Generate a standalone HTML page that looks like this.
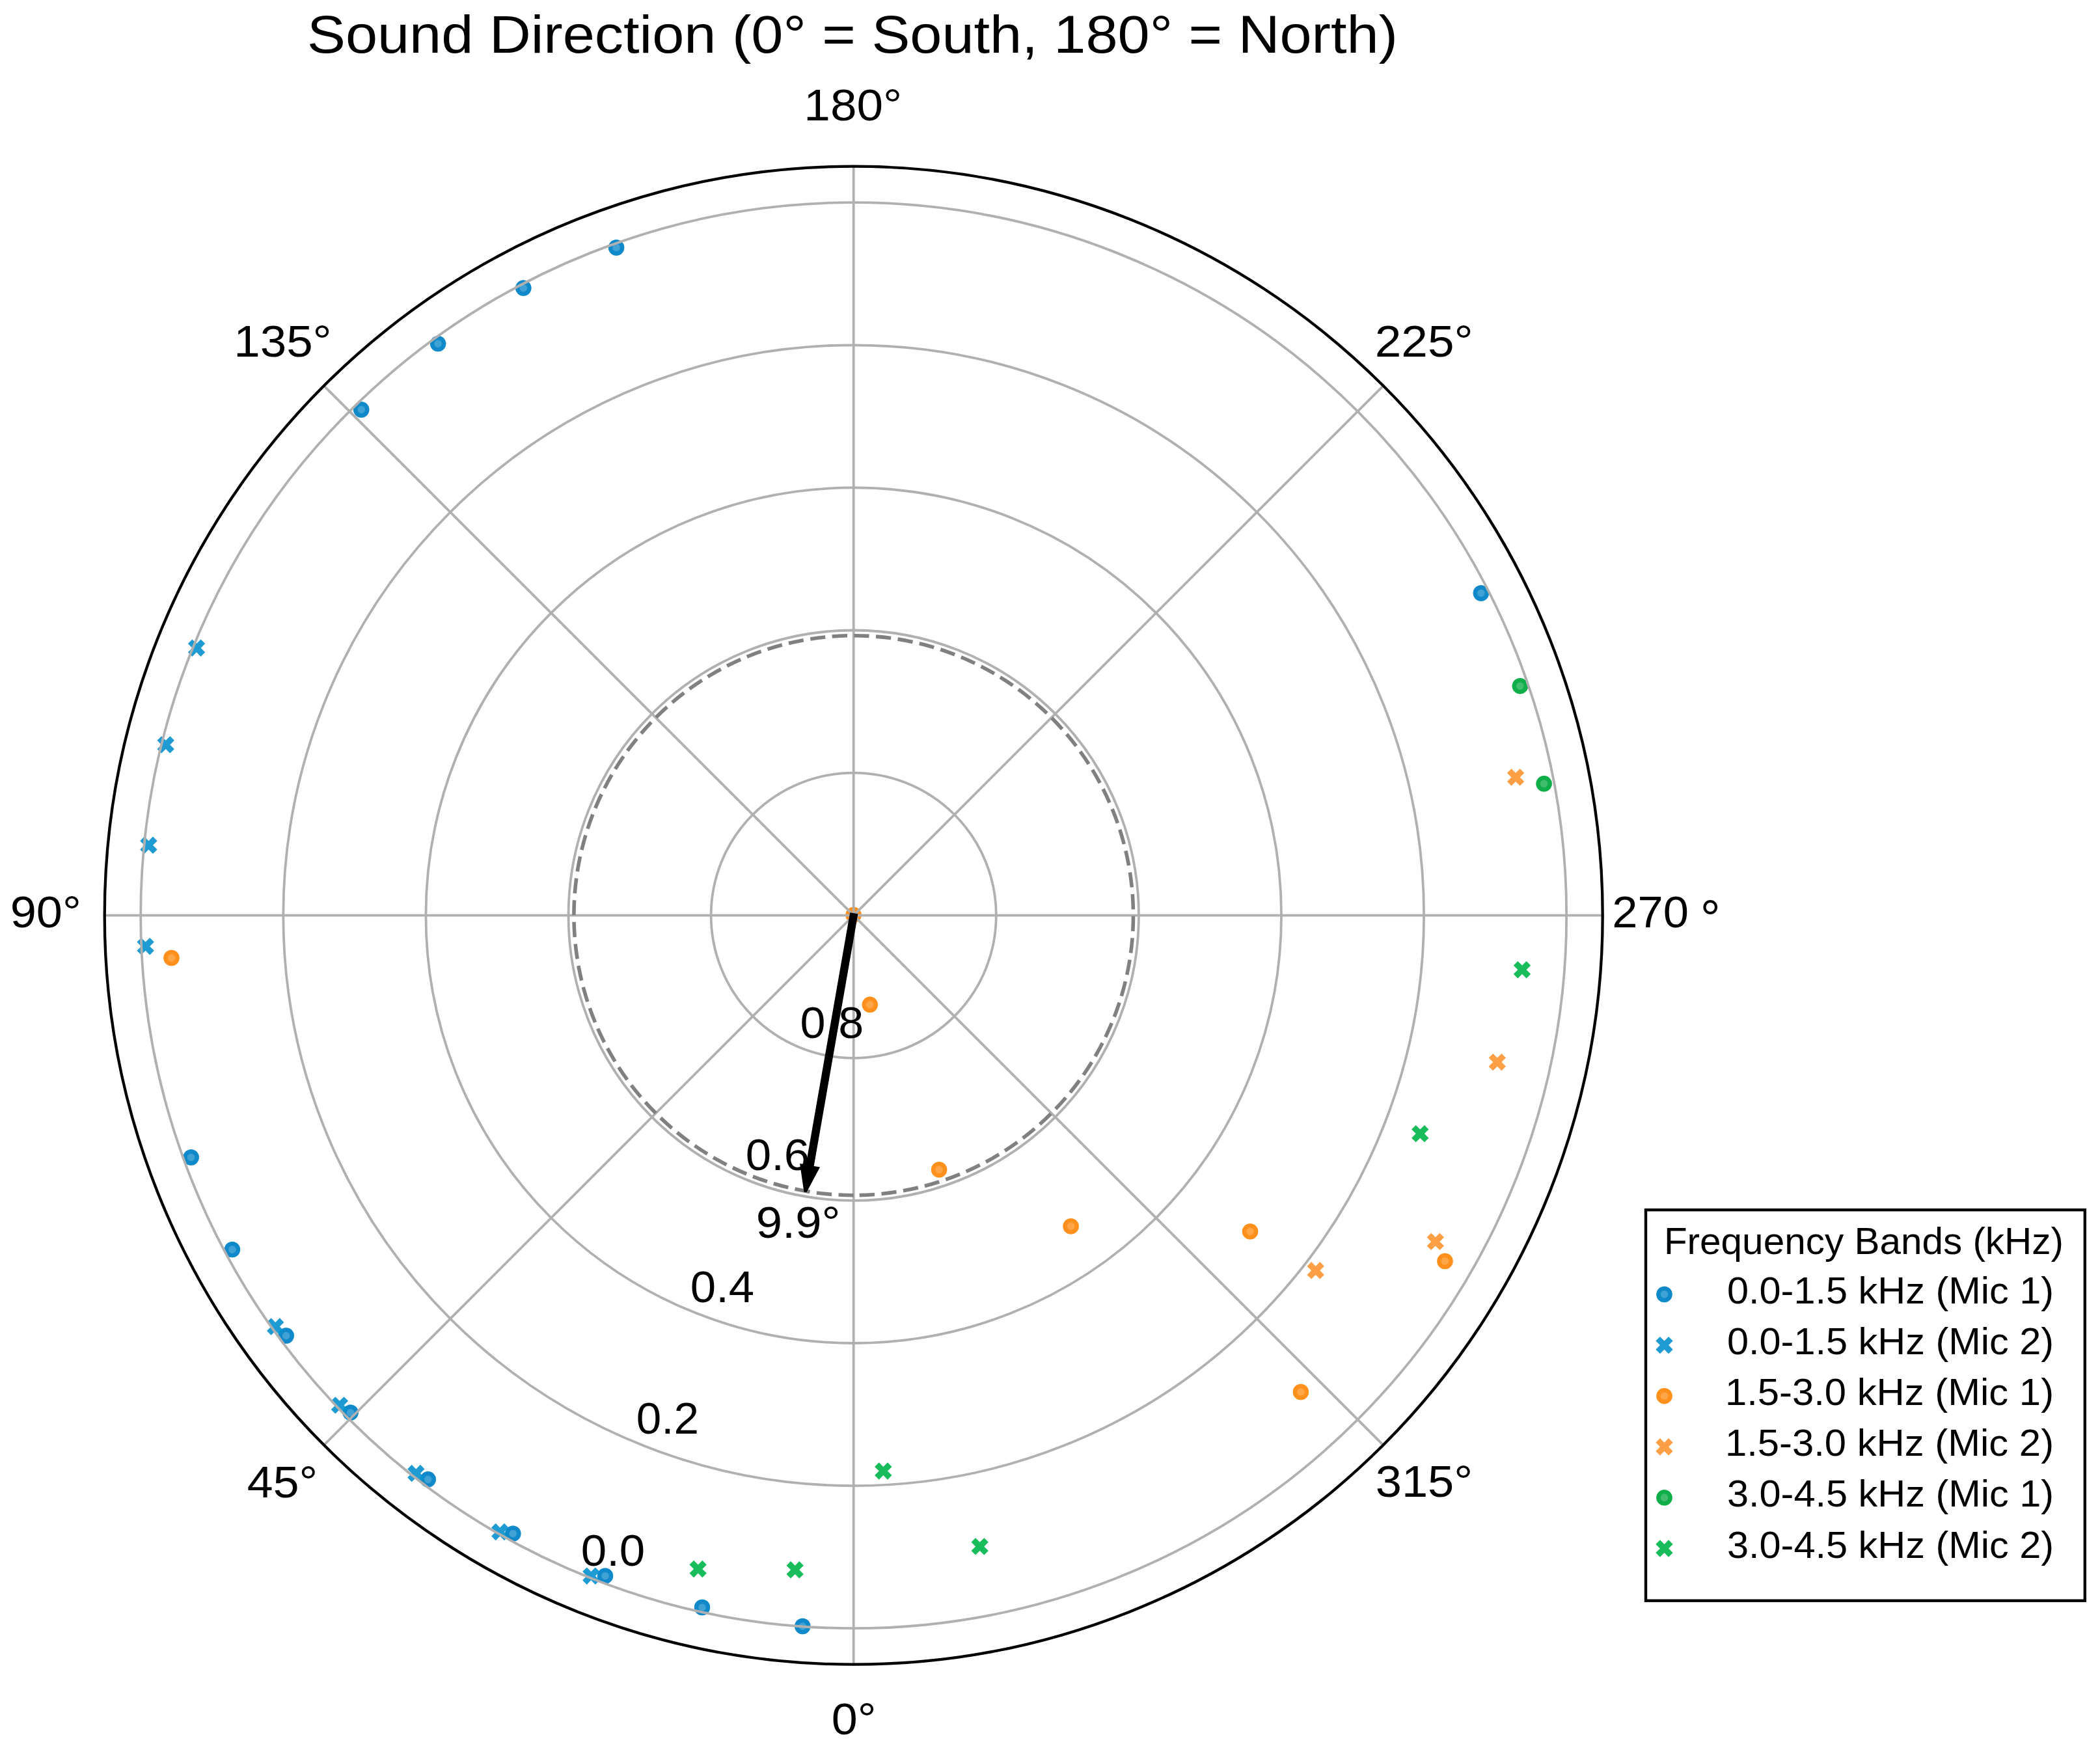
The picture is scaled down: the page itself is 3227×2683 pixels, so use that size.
<!DOCTYPE html><html><head><meta charset="utf-8"><style>html,body{margin:0;padding:0;background:#fff;}svg{display:block;}text{font-family:"Liberation Sans",sans-serif;fill:#000;}</style></head><body>
<svg width="3227" height="2683" viewBox="0 0 3227 2683">
<rect x="0" y="0" width="3227" height="2683" fill="#fff"/>
<circle cx="947.1" cy="380.5" r="12.2" fill="#0081c7" fill-opacity="0.75"/><circle cx="947.1" cy="380.5" r="9.0" fill="none" stroke="#0081c7" stroke-opacity="0.75" stroke-width="6.4"/>
<circle cx="804.3" cy="442.6" r="12.2" fill="#0081c7" fill-opacity="0.75"/><circle cx="804.3" cy="442.6" r="9.0" fill="none" stroke="#0081c7" stroke-opacity="0.75" stroke-width="6.4"/>
<circle cx="673.1" cy="528.1" r="12.2" fill="#0081c7" fill-opacity="0.75"/><circle cx="673.1" cy="528.1" r="9.0" fill="none" stroke="#0081c7" stroke-opacity="0.75" stroke-width="6.4"/>
<circle cx="555.2" cy="629.5" r="12.2" fill="#0081c7" fill-opacity="0.75"/><circle cx="555.2" cy="629.5" r="9.0" fill="none" stroke="#0081c7" stroke-opacity="0.75" stroke-width="6.4"/>
<circle cx="2275.9" cy="911.5" r="12.2" fill="#0081c7" fill-opacity="0.75"/><circle cx="2275.9" cy="911.5" r="9.0" fill="none" stroke="#0081c7" stroke-opacity="0.75" stroke-width="6.4"/>
<circle cx="293.6" cy="1778.5" r="12.2" fill="#0081c7" fill-opacity="0.75"/><circle cx="293.6" cy="1778.5" r="9.0" fill="none" stroke="#0081c7" stroke-opacity="0.75" stroke-width="6.4"/>
<circle cx="356.9" cy="1920.1" r="12.2" fill="#0081c7" fill-opacity="0.75"/><circle cx="356.9" cy="1920.1" r="9.0" fill="none" stroke="#0081c7" stroke-opacity="0.75" stroke-width="6.4"/>
<circle cx="439.7" cy="2052.5" r="12.2" fill="#0081c7" fill-opacity="0.75"/><circle cx="439.7" cy="2052.5" r="9.0" fill="none" stroke="#0081c7" stroke-opacity="0.75" stroke-width="6.4"/>
<circle cx="538.6" cy="2170.7" r="12.2" fill="#0081c7" fill-opacity="0.75"/><circle cx="538.6" cy="2170.7" r="9.0" fill="none" stroke="#0081c7" stroke-opacity="0.75" stroke-width="6.4"/>
<circle cx="657.7" cy="2273.3" r="12.2" fill="#0081c7" fill-opacity="0.75"/><circle cx="657.7" cy="2273.3" r="9.0" fill="none" stroke="#0081c7" stroke-opacity="0.75" stroke-width="6.4"/>
<circle cx="788.3" cy="2356.7" r="12.2" fill="#0081c7" fill-opacity="0.75"/><circle cx="788.3" cy="2356.7" r="9.0" fill="none" stroke="#0081c7" stroke-opacity="0.75" stroke-width="6.4"/>
<circle cx="930.0" cy="2421.7" r="12.2" fill="#0081c7" fill-opacity="0.75"/><circle cx="930.0" cy="2421.7" r="9.0" fill="none" stroke="#0081c7" stroke-opacity="0.75" stroke-width="6.4"/>
<circle cx="1079.0" cy="2470.0" r="12.2" fill="#0081c7" fill-opacity="0.75"/><circle cx="1079.0" cy="2470.0" r="9.0" fill="none" stroke="#0081c7" stroke-opacity="0.75" stroke-width="6.4"/>
<circle cx="1233.3" cy="2499.0" r="12.2" fill="#0081c7" fill-opacity="0.75"/><circle cx="1233.3" cy="2499.0" r="9.0" fill="none" stroke="#0081c7" stroke-opacity="0.75" stroke-width="6.4"/>
<polygon points="295.40,982.50 302.00,989.10 308.60,982.50 315.20,989.10 308.60,995.70 315.20,1002.30 308.60,1008.90 302.00,1002.30 295.40,1008.90 288.80,1002.30 295.40,995.70 288.80,989.10" fill="#0590cd" fill-opacity="0.9"/>
<polygon points="248.10,1131.20 254.70,1137.80 261.30,1131.20 267.90,1137.80 261.30,1144.40 267.90,1151.00 261.30,1157.60 254.70,1151.00 248.10,1157.60 241.50,1151.00 248.10,1144.40 241.50,1137.80" fill="#0590cd" fill-opacity="0.9"/>
<polygon points="221.80,1285.60 228.40,1292.20 235.00,1285.60 241.60,1292.20 235.00,1298.80 241.60,1305.40 235.00,1312.00 228.40,1305.40 221.80,1312.00 215.20,1305.40 221.80,1298.80 215.20,1292.20" fill="#0590cd" fill-opacity="0.9"/>
<polygon points="217.00,1441.00 223.60,1447.60 230.20,1441.00 236.80,1447.60 230.20,1454.20 236.80,1460.80 230.20,1467.40 223.60,1460.80 217.00,1467.40 210.40,1460.80 217.00,1454.20 210.40,1447.60" fill="#0590cd" fill-opacity="0.9"/>
<polygon points="416.60,2025.30 423.20,2031.90 429.80,2025.30 436.40,2031.90 429.80,2038.50 436.40,2045.10 429.80,2051.70 423.20,2045.10 416.60,2051.70 410.00,2045.10 416.60,2038.50 410.00,2031.90" fill="#0590cd" fill-opacity="0.9"/>
<polygon points="515.30,2146.20 521.90,2152.80 528.50,2146.20 535.10,2152.80 528.50,2159.40 535.10,2166.00 528.50,2172.60 521.90,2166.00 515.30,2172.60 508.70,2166.00 515.30,2159.40 508.70,2152.80" fill="#0590cd" fill-opacity="0.9"/>
<polygon points="632.70,2250.80 639.30,2257.40 645.90,2250.80 652.50,2257.40 645.90,2264.00 652.50,2270.60 645.90,2277.20 639.30,2270.60 632.70,2277.20 626.10,2270.60 632.70,2264.00 626.10,2257.40" fill="#0590cd" fill-opacity="0.9"/>
<polygon points="761.70,2340.80 768.30,2347.40 774.90,2340.80 781.50,2347.40 774.90,2354.00 781.50,2360.60 774.90,2367.20 768.30,2360.60 761.70,2367.20 755.10,2360.60 761.70,2354.00 755.10,2347.40" fill="#0590cd" fill-opacity="0.9"/>
<polygon points="901.70,2408.50 908.30,2415.10 914.90,2408.50 921.50,2415.10 914.90,2421.70 921.50,2428.30 914.90,2434.90 908.30,2428.30 901.70,2434.90 895.10,2428.30 901.70,2421.70 895.10,2415.10" fill="#0590cd" fill-opacity="0.9"/>
<circle cx="1311.6" cy="1405.9" r="12.2" fill="#ff880c" fill-opacity="0.75"/><circle cx="1311.6" cy="1405.9" r="9.0" fill="none" stroke="#ff880c" stroke-opacity="0.75" stroke-width="6.4"/>
<circle cx="263.5" cy="1472.0" r="12.2" fill="#ff880c" fill-opacity="0.75"/><circle cx="263.5" cy="1472.0" r="9.0" fill="none" stroke="#ff880c" stroke-opacity="0.75" stroke-width="6.4"/>
<circle cx="1336.8" cy="1543.8" r="12.2" fill="#ff880c" fill-opacity="0.75"/><circle cx="1336.8" cy="1543.8" r="9.0" fill="none" stroke="#ff880c" stroke-opacity="0.75" stroke-width="6.4"/>
<circle cx="1443.1" cy="1797.4" r="12.2" fill="#ff880c" fill-opacity="0.75"/><circle cx="1443.1" cy="1797.4" r="9.0" fill="none" stroke="#ff880c" stroke-opacity="0.75" stroke-width="6.4"/>
<circle cx="1645.6" cy="1884.4" r="12.2" fill="#ff880c" fill-opacity="0.75"/><circle cx="1645.6" cy="1884.4" r="9.0" fill="none" stroke="#ff880c" stroke-opacity="0.75" stroke-width="6.4"/>
<circle cx="1921.1" cy="1892.4" r="12.2" fill="#ff880c" fill-opacity="0.75"/><circle cx="1921.1" cy="1892.4" r="9.0" fill="none" stroke="#ff880c" stroke-opacity="0.75" stroke-width="6.4"/>
<circle cx="1998.9" cy="2139.0" r="12.2" fill="#ff880c" fill-opacity="0.75"/><circle cx="1998.9" cy="2139.0" r="9.0" fill="none" stroke="#ff880c" stroke-opacity="0.75" stroke-width="6.4"/>
<circle cx="2220.5" cy="1938.0" r="12.2" fill="#ff880c" fill-opacity="0.75"/><circle cx="2220.5" cy="1938.0" r="9.0" fill="none" stroke="#ff880c" stroke-opacity="0.75" stroke-width="6.4"/>
<polygon points="2322.50,1181.20 2329.10,1187.80 2335.70,1181.20 2342.30,1187.80 2335.70,1194.40 2342.30,1201.00 2335.70,1207.60 2329.10,1201.00 2322.50,1207.60 2315.90,1201.00 2322.50,1194.40 2315.90,1187.80" fill="#ff9531" fill-opacity="0.9"/>
<polygon points="2294.20,1618.90 2300.80,1625.50 2307.40,1618.90 2314.00,1625.50 2307.40,1632.10 2314.00,1638.70 2307.40,1645.30 2300.80,1638.70 2294.20,1645.30 2287.60,1638.70 2294.20,1632.10 2287.60,1625.50" fill="#ff9531" fill-opacity="0.9"/>
<polygon points="2199.20,1894.70 2205.80,1901.30 2212.40,1894.70 2219.00,1901.30 2212.40,1907.90 2219.00,1914.50 2212.40,1921.10 2205.80,1914.50 2199.20,1921.10 2192.60,1914.50 2199.20,1907.90 2192.60,1901.30" fill="#ff9531" fill-opacity="0.9"/>
<polygon points="2015.10,1939.10 2021.70,1945.70 2028.30,1939.10 2034.90,1945.70 2028.30,1952.30 2034.90,1958.90 2028.30,1965.50 2021.70,1958.90 2015.10,1965.50 2008.50,1958.90 2015.10,1952.30 2008.50,1945.70" fill="#ff9531" fill-opacity="0.9"/>
<circle cx="2335.9" cy="1054.2" r="12.2" fill="#00a83e" fill-opacity="0.75"/><circle cx="2335.9" cy="1054.2" r="9.0" fill="none" stroke="#00a83e" stroke-opacity="0.75" stroke-width="6.4"/>
<circle cx="2372.6" cy="1204.3" r="12.2" fill="#00a83e" fill-opacity="0.75"/><circle cx="2372.6" cy="1204.3" r="9.0" fill="none" stroke="#00a83e" stroke-opacity="0.75" stroke-width="6.4"/>
<polygon points="2332.40,1477.00 2339.00,1483.60 2345.60,1477.00 2352.20,1483.60 2345.60,1490.20 2352.20,1496.80 2345.60,1503.40 2339.00,1496.80 2332.40,1503.40 2325.80,1496.80 2332.40,1490.20 2325.80,1483.60" fill="#00b548" fill-opacity="0.9"/>
<polygon points="2175.70,1728.90 2182.30,1735.50 2188.90,1728.90 2195.50,1735.50 2188.90,1742.10 2195.50,1748.70 2188.90,1755.30 2182.30,1748.70 2175.70,1755.30 2169.10,1748.70 2175.70,1742.10 2169.10,1735.50" fill="#00b548" fill-opacity="0.9"/>
<polygon points="1066.10,2397.80 1072.70,2404.40 1079.30,2397.80 1085.90,2404.40 1079.30,2411.00 1085.90,2417.60 1079.30,2424.20 1072.70,2417.60 1066.10,2424.20 1059.50,2417.60 1066.10,2411.00 1059.50,2404.40" fill="#00b548" fill-opacity="0.9"/>
<polygon points="1215.10,2399.10 1221.70,2405.70 1228.30,2399.10 1234.90,2405.70 1228.30,2412.30 1234.90,2418.90 1228.30,2425.50 1221.70,2418.90 1215.10,2425.50 1208.50,2418.90 1215.10,2412.30 1208.50,2405.70" fill="#00b548" fill-opacity="0.9"/>
<polygon points="1350.70,2247.30 1357.30,2253.90 1363.90,2247.30 1370.50,2253.90 1363.90,2260.50 1370.50,2267.10 1363.90,2273.70 1357.30,2267.10 1350.70,2273.70 1344.10,2267.10 1350.70,2260.50 1344.10,2253.90" fill="#00b548" fill-opacity="0.9"/>
<polygon points="1499.10,2363.20 1505.70,2369.80 1512.30,2363.20 1518.90,2369.80 1512.30,2376.40 1518.90,2383.00 1512.30,2389.60 1505.70,2383.00 1499.10,2389.60 1492.50,2383.00 1499.10,2376.40 1492.50,2369.80" fill="#00b548" fill-opacity="0.9"/>
<circle cx="1311.7" cy="1406.7" r="219.1" fill="none" stroke="#b0b0b0" stroke-width="3.8"/>
<circle cx="1311.7" cy="1406.7" r="438.2" fill="none" stroke="#b0b0b0" stroke-width="3.8"/>
<circle cx="1311.7" cy="1406.7" r="657.3" fill="none" stroke="#b0b0b0" stroke-width="3.8"/>
<circle cx="1311.7" cy="1406.7" r="876.4" fill="none" stroke="#b0b0b0" stroke-width="3.8"/>
<circle cx="1311.7" cy="1406.7" r="1095.5" fill="none" stroke="#b0b0b0" stroke-width="3.8"/>
<line x1="1311.7" y1="1406.7" x2="2462.7" y2="1406.7" stroke="#b0b0b0" stroke-width="3.8"/>
<line x1="1311.7" y1="1406.7" x2="2125.6" y2="2220.6" stroke="#b0b0b0" stroke-width="3.8"/>
<line x1="1311.7" y1="1406.7" x2="1311.7" y2="2557.7" stroke="#b0b0b0" stroke-width="3.8"/>
<line x1="1311.7" y1="1406.7" x2="497.8" y2="2220.6" stroke="#b0b0b0" stroke-width="3.8"/>
<line x1="1311.7" y1="1406.7" x2="160.7" y2="1406.7" stroke="#b0b0b0" stroke-width="3.8"/>
<line x1="1311.7" y1="1406.7" x2="497.8" y2="592.8" stroke="#b0b0b0" stroke-width="3.8"/>
<line x1="1311.7" y1="1406.7" x2="1311.7" y2="255.7" stroke="#b0b0b0" stroke-width="3.8"/>
<line x1="1311.7" y1="1406.7" x2="2125.6" y2="592.8" stroke="#b0b0b0" stroke-width="3.8"/>
<path d="M 1311.7 1836.7 A 430.0 430.0 0 0 1 1311.7 976.7 A 430.0 430.0 0 0 1 1311.7 1836.7" fill="none" stroke="#808080" stroke-width="5.6" stroke-dasharray="23.3 10.47"/>
<circle cx="1311.7" cy="1406.7" r="1151.0" fill="none" stroke="#000" stroke-width="4.3"/>
<text x="471.98" y="81.4" font-size="81.40" textLength="1676.05" lengthAdjust="spacingAndGlyphs">Sound Direction (0° = South, 180° = North)</text>
<text x="1235.39" y="185.1" font-size="67.73" textLength="150.91" lengthAdjust="spacingAndGlyphs">180°</text>
<text x="359.22" y="547.6" font-size="67.73" textLength="150.49" lengthAdjust="spacingAndGlyphs">135°</text>
<text x="2112.70" y="547.6" font-size="67.73" textLength="151.06" lengthAdjust="spacingAndGlyphs">225°</text>
<text x="15.66" y="1424.8" font-size="67.73" textLength="109.21" lengthAdjust="spacingAndGlyphs">90°</text>
<text x="2477.32" y="1424.8" font-size="67.73" textLength="117.61" lengthAdjust="spacingAndGlyphs">270</text>
<text x="2612.82" y="1438.3" font-size="77.91" textLength="31.04" lengthAdjust="spacingAndGlyphs">°</text>
<text x="379.88" y="2300.6" font-size="67.73" textLength="108.18" lengthAdjust="spacingAndGlyphs">45°</text>
<text x="2113.73" y="2300.3" font-size="67.73" textLength="149.47" lengthAdjust="spacingAndGlyphs">315°</text>
<text x="1277.79" y="2664.6" font-size="67.73" textLength="68.67" lengthAdjust="spacingAndGlyphs">0°</text>
<text x="1229.62" y="1595.0" font-size="67.73" textLength="97.57" lengthAdjust="spacingAndGlyphs">0.8</text>
<text x="1145.79" y="1798.3" font-size="67.73" textLength="98.42" lengthAdjust="spacingAndGlyphs">0.6</text>
<text x="1060.84" y="2001.0" font-size="67.73" textLength="98.40" lengthAdjust="spacingAndGlyphs">0.4</text>
<text x="977.81" y="2202.7" font-size="67.73" textLength="96.26" lengthAdjust="spacingAndGlyphs">0.2</text>
<text x="892.80" y="2405.7" font-size="67.73" textLength="98.46" lengthAdjust="spacingAndGlyphs">0.0</text>
<text x="1161.71" y="1901.6" font-size="67.73" textLength="129.76" lengthAdjust="spacingAndGlyphs">9.9°</text>
<polygon points="1307.90,1404.62 1240.17,1792.18 1231.60,1790.68 1237.50,1831.30 1256.82,1795.09 1248.25,1793.59 1315.98,1406.03" fill="#000" stroke="#000" stroke-width="4.2" stroke-linejoin="miter" stroke-miterlimit="2"/>
<rect x="2529" y="1859.2" width="674.8" height="600.5" fill="#fff" stroke="#000" stroke-width="4.4"/>
<text x="2556.92" y="1927.0" font-size="56.54" textLength="614.14" lengthAdjust="spacingAndGlyphs">Frequency Bands (kHz)</text>
<circle cx="2557.5" cy="1989.0" r="12.2" fill="#0081c7" fill-opacity="0.75"/><circle cx="2557.5" cy="1989.0" r="9.0" fill="none" stroke="#0081c7" stroke-opacity="0.75" stroke-width="6.4"/>
<text x="2653.98" y="2003.0" font-size="56.54" textLength="502.07" lengthAdjust="spacingAndGlyphs">0.0-1.5 kHz (Mic 1)</text>
<polygon points="2550.90,2053.90 2557.50,2060.50 2564.10,2053.90 2570.70,2060.50 2564.10,2067.10 2570.70,2073.70 2564.10,2080.30 2557.50,2073.70 2550.90,2080.30 2544.30,2073.70 2550.90,2067.10 2544.30,2060.50" fill="#0590cd" fill-opacity="0.9"/>
<text x="2653.98" y="2081.1" font-size="56.54" textLength="502.07" lengthAdjust="spacingAndGlyphs">0.0-1.5 kHz (Mic 2)</text>
<circle cx="2557.5" cy="2145.2" r="12.2" fill="#ff880c" fill-opacity="0.75"/><circle cx="2557.5" cy="2145.2" r="9.0" fill="none" stroke="#ff880c" stroke-opacity="0.75" stroke-width="6.4"/>
<text x="2650.92" y="2159.2" font-size="56.54" textLength="505.15" lengthAdjust="spacingAndGlyphs">1.5-3.0 kHz (Mic 1)</text>
<polygon points="2550.90,2210.10 2557.50,2216.70 2564.10,2210.10 2570.70,2216.70 2564.10,2223.30 2570.70,2229.90 2564.10,2236.50 2557.50,2229.90 2550.90,2236.50 2544.30,2229.90 2550.90,2223.30 2544.30,2216.70" fill="#ff9531" fill-opacity="0.9"/>
<text x="2650.92" y="2237.3" font-size="56.54" textLength="505.15" lengthAdjust="spacingAndGlyphs">1.5-3.0 kHz (Mic 2)</text>
<circle cx="2557.5" cy="2301.4" r="12.2" fill="#00a83e" fill-opacity="0.75"/><circle cx="2557.5" cy="2301.4" r="9.0" fill="none" stroke="#00a83e" stroke-opacity="0.75" stroke-width="6.4"/>
<text x="2653.98" y="2315.4" font-size="56.54" textLength="502.07" lengthAdjust="spacingAndGlyphs">3.0-4.5 kHz (Mic 1)</text>
<polygon points="2550.90,2366.30 2557.50,2372.90 2564.10,2366.30 2570.70,2372.90 2564.10,2379.50 2570.70,2386.10 2564.10,2392.70 2557.50,2386.10 2550.90,2392.70 2544.30,2386.10 2550.90,2379.50 2544.30,2372.90" fill="#00b548" fill-opacity="0.9"/>
<text x="2653.98" y="2393.5" font-size="56.54" textLength="502.07" lengthAdjust="spacingAndGlyphs">3.0-4.5 kHz (Mic 2)</text>
</svg></body></html>
